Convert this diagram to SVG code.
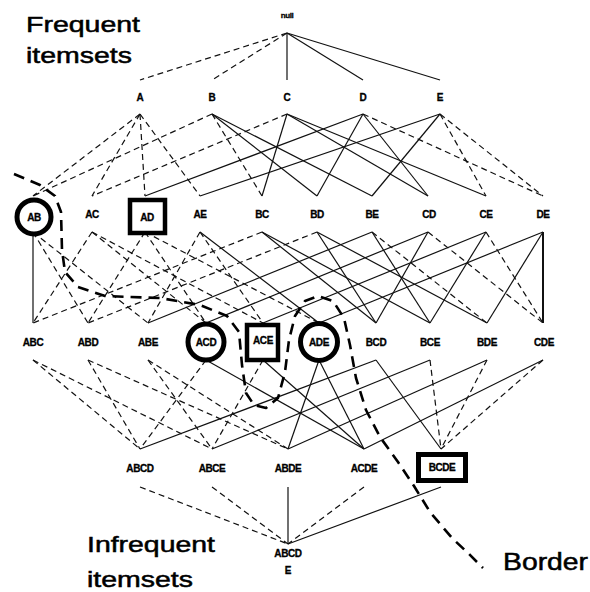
<svg xmlns="http://www.w3.org/2000/svg" width="590" height="592" viewBox="0 0 590 592">
  <style>
    .s { stroke: #111; stroke-width: 1.2; fill: none; }
    .d { stroke: #111; stroke-width: 1.2; fill: none; stroke-dasharray: 6 4; }
    .lb { font-family: "Liberation Sans", Arial, sans-serif; font-size: 10px; font-weight: bold; text-anchor: middle; fill: #000; stroke: #000; stroke-width: 0.3; letter-spacing: -0.4px; }
    .big { font-family: "Liberation Sans", Arial, sans-serif; font-size: 22px; fill: #000; stroke: #000; stroke-width: 0.5; }
    .ring { fill: #fff; stroke: #000; stroke-width: 5; }
    .box { fill: #fff; stroke: #000; stroke-width: 4.5; }
    .border { fill: none; stroke: #000; stroke-width: 2.6; stroke-dasharray: 11 7; stroke-linejoin: round; stroke-linecap: butt; }
  </style>
  <rect width="590" height="592" fill="#fff"/>

  <!-- lattice connectors -->
  <g id="edges">
    <!-- null to 1-itemsets -->
    <line class="d" x1="287" y1="33" x2="140" y2="80"/>
    <line class="d" x1="287" y1="33" x2="212" y2="80"/>
    <line class="s" x1="287" y1="33" x2="287" y2="80"/>
    <line class="s" x1="287" y1="33" x2="363" y2="80"/>
    <line class="s" x1="287" y1="33" x2="440" y2="80"/>
    <!-- 1-itemsets to 2-itemsets -->
    <line class="d" x1="140" y1="114" x2="33" y2="196"/>
    <line class="d" x1="140" y1="114" x2="92" y2="196"/>
    <line class="d" x1="140" y1="114" x2="145" y2="196"/>
    <line class="d" x1="140" y1="114" x2="200" y2="196"/>
    <line class="d" x1="212" y1="114" x2="33" y2="196"/>
    <line class="d" x1="212" y1="114" x2="262" y2="196"/>
    <line class="s" x1="212" y1="114" x2="317" y2="196"/>
    <line class="s" x1="212" y1="114" x2="372" y2="196"/>
    <line class="d" x1="287" y1="114" x2="92" y2="196"/>
    <line class="s" x1="287" y1="114" x2="262" y2="196"/>
    <line class="s" x1="287" y1="114" x2="428" y2="196"/>
    <line class="s" x1="287" y1="114" x2="486" y2="196"/>
    <line class="s" x1="363" y1="114" x2="145" y2="196"/>
    <line class="s" x1="363" y1="114" x2="317" y2="196"/>
    <line class="s" x1="363" y1="114" x2="428" y2="196"/>
    <line class="d" x1="363" y1="114" x2="543" y2="196"/>
    <line class="s" x1="440" y1="114" x2="200" y2="196"/>
    <line class="s" x1="440" y1="114" x2="372" y2="196"/>
    <line class="d" x1="440" y1="114" x2="486" y2="196"/>
    <line class="d" x1="440" y1="114" x2="543" y2="196"/>
    <!-- 2-itemsets to 3-itemsets -->
    <line class="s" x1="33" y1="232" x2="33" y2="323"/>
    <line class="d" x1="33" y1="232" x2="88" y2="323"/>
    <line class="d" x1="33" y1="232" x2="148" y2="323"/>
    <line class="d" x1="92" y1="232" x2="33" y2="323"/>
    <line class="d" x1="92" y1="232" x2="206" y2="323"/>
    <line class="d" x1="92" y1="232" x2="263" y2="323"/>
    <line class="d" x1="145" y1="232" x2="88" y2="323"/>
    <line class="d" x1="145" y1="232" x2="206" y2="323"/>
    <line class="d" x1="145" y1="232" x2="319" y2="323"/>
    <line class="d" x1="200" y1="232" x2="148" y2="323"/>
    <line class="d" x1="200" y1="232" x2="263" y2="323"/>
    <line class="s" x1="200" y1="232" x2="319" y2="323"/>
    <line class="d" x1="262" y1="232" x2="33" y2="323"/>
    <line class="s" x1="262" y1="232" x2="376" y2="323"/>
    <line class="s" x1="262" y1="232" x2="430" y2="323"/>
    <line class="d" x1="317" y1="232" x2="88" y2="323"/>
    <line class="s" x1="317" y1="232" x2="376" y2="323"/>
    <line class="s" x1="317" y1="232" x2="487" y2="323"/>
    <line class="s" x1="372" y1="232" x2="148" y2="323"/>
    <line class="s" x1="372" y1="232" x2="430" y2="323"/>
    <line class="d" x1="372" y1="232" x2="487" y2="323"/>
    <line class="s" x1="428" y1="232" x2="206" y2="323"/>
    <line class="s" x1="428" y1="232" x2="376" y2="323"/>
    <line class="d" x1="428" y1="232" x2="543" y2="323"/>
    <line class="s" x1="486" y1="232" x2="263" y2="323"/>
    <line class="s" x1="486" y1="232" x2="430" y2="323"/>
    <line class="d" x1="486" y1="232" x2="543" y2="323"/>
    <line class="s" x1="543" y1="232" x2="319" y2="323"/>
    <line class="s" x1="543" y1="232" x2="487" y2="323"/>
    <line class="s" x1="543" y1="232" x2="543" y2="323" style="stroke-width:2"/>
    <!-- 3-itemsets to 4-itemsets -->
    <line class="d" x1="33" y1="360" x2="140" y2="449"/>
    <line class="d" x1="33" y1="360" x2="212" y2="449"/>
    <line class="d" x1="88" y1="360" x2="140" y2="449"/>
    <line class="d" x1="88" y1="360" x2="288" y2="449"/>
    <line class="d" x1="148" y1="360" x2="212" y2="449"/>
    <line class="d" x1="148" y1="360" x2="288" y2="449"/>
    <line class="d" x1="206" y1="360" x2="140" y2="449"/>
    <line class="s" x1="206" y1="360" x2="364" y2="449"/>
    <line class="d" x1="263" y1="360" x2="212" y2="449"/>
    <line class="s" x1="263" y1="360" x2="364" y2="449"/>
    <line class="s" x1="319" y1="360" x2="288" y2="449"/>
    <line class="s" x1="319" y1="360" x2="364" y2="449"/>
    <line class="s" x1="376" y1="360" x2="140" y2="449"/>
    <line class="s" x1="376" y1="360" x2="441" y2="449"/>
    <line class="s" x1="430" y1="360" x2="212" y2="449"/>
    <line class="d" x1="430" y1="360" x2="441" y2="449"/>
    <line class="s" x1="487" y1="360" x2="288" y2="449"/>
    <line class="d" x1="487" y1="360" x2="441" y2="449"/>
    <line class="s" x1="543" y1="360" x2="364" y2="449"/>
    <line class="d" x1="543" y1="360" x2="441" y2="449"/>
    <!-- 4-itemsets to ABCDE -->
    <line class="d" x1="140" y1="487" x2="288" y2="544"/>
    <line class="d" x1="212" y1="487" x2="288" y2="544"/>
    <line class="s" x1="288" y1="487" x2="288" y2="544"/>
    <line class="d" x1="364" y1="487" x2="288" y2="544"/>
    <line class="s" x1="441" y1="487" x2="288" y2="544"/>
  </g>

  <!-- border between frequent and infrequent itemsets -->
  <path id="border" class="border" d="M14,174 L40,185 L55,196 L61,212 L62,250 L65,272 L78,287 L105,296 L160,298 L200,305 L227,316 L239,332 L242,365 L246,393 L254,405 L266,408 L278,398 L285,372 L289,340 L295,316 L305,301 L318,296 L333,301 L344,318 L350,345 L356,378 L366,410 L380,437 L398,462 L414,486 L430,512 L452,538 L468,553 L483,568"/>

  <!-- null -->
  <g id="n-null"><text class="lb" x="287" y="18" style="font-size:8px">null</text></g>

  <!-- 1-itemsets -->
  <g id="n-A"><text class="lb" x="140" y="101">A</text></g>
  <g id="n-B"><text class="lb" x="212" y="101">B</text></g>
  <g id="n-C"><text class="lb" x="287" y="101">C</text></g>
  <g id="n-D"><text class="lb" x="363" y="101">D</text></g>
  <g id="n-E"><text class="lb" x="440" y="101">E</text></g>

  <!-- 2-itemsets -->
  <g id="n-AB"><circle class="ring" cx="34" cy="217" r="17"/><text class="lb" x="34" y="221">AB</text></g>
  <g id="n-AC"><text class="lb" x="92" y="218">AC</text></g>
  <g id="n-AD"><rect class="box" x="130" y="200" width="35" height="33"/><text class="lb" x="147" y="221">AD</text></g>
  <g id="n-AE"><text class="lb" x="200" y="218">AE</text></g>
  <g id="n-BC"><text class="lb" x="262" y="218">BC</text></g>
  <g id="n-BD"><text class="lb" x="317" y="218">BD</text></g>
  <g id="n-BE"><text class="lb" x="372" y="218">BE</text></g>
  <g id="n-CD"><text class="lb" x="429" y="218">CD</text></g>
  <g id="n-CE"><text class="lb" x="486" y="218">CE</text></g>
  <g id="n-DE"><text class="lb" x="543" y="218">DE</text></g>

  <!-- 3-itemsets -->
  <g id="n-ABC"><text class="lb" x="33" y="346">ABC</text></g>
  <g id="n-ABD"><text class="lb" x="88" y="346">ABD</text></g>
  <g id="n-ABE"><text class="lb" x="148" y="346">ABE</text></g>
  <g id="n-ACD"><circle class="ring" cx="206" cy="342" r="18"/><text class="lb" x="206" y="346">ACD</text></g>
  <g id="n-ACE"><rect class="box" x="247" y="325" width="31" height="35"/><text class="lb" x="263" y="344">ACE</text></g>
  <g id="n-ADE"><circle class="ring" cx="319" cy="342" r="18.5"/><text class="lb" x="319" y="346">ADE</text></g>
  <g id="n-BCD"><text class="lb" x="376" y="346">BCD</text></g>
  <g id="n-BCE"><text class="lb" x="430" y="346">BCE</text></g>
  <g id="n-BDE"><text class="lb" x="487" y="346">BDE</text></g>
  <g id="n-CDE"><text class="lb" x="544" y="346">CDE</text></g>

  <!-- 4-itemsets -->
  <g id="n-ABCD"><text class="lb" x="140" y="472">ABCD</text></g>
  <g id="n-ABCE"><text class="lb" x="212" y="472">ABCE</text></g>
  <g id="n-ABDE"><text class="lb" x="288" y="472">ABDE</text></g>
  <g id="n-ACDE"><text class="lb" x="364" y="472">ACDE</text></g>
  <g id="n-BCDE"><rect class="box" x="418.5" y="454.5" width="47" height="26" style="stroke-width:5"/><text class="lb" x="442" y="471">BCDE</text></g>

  <!-- 5-itemset -->
  <g id="n-ABCDE"><text class="lb" x="288" y="557">ABCD</text><text class="lb" x="288" y="574">E</text></g>

  <!-- captions -->
  <g id="captions">
    <text class="big" x="26" y="32" textLength="114" lengthAdjust="spacingAndGlyphs">Frequent</text>
    <text class="big" x="26" y="63" textLength="106" lengthAdjust="spacingAndGlyphs">itemsets</text>
    <text class="big" x="87" y="552" textLength="128" lengthAdjust="spacingAndGlyphs">Infrequent</text>
    <text class="big" x="87" y="587" textLength="106" lengthAdjust="spacingAndGlyphs">itemsets</text>
    <text class="big" x="503" y="570" style="font-size:23px" textLength="85" lengthAdjust="spacingAndGlyphs">Border</text>
  </g>
</svg>
